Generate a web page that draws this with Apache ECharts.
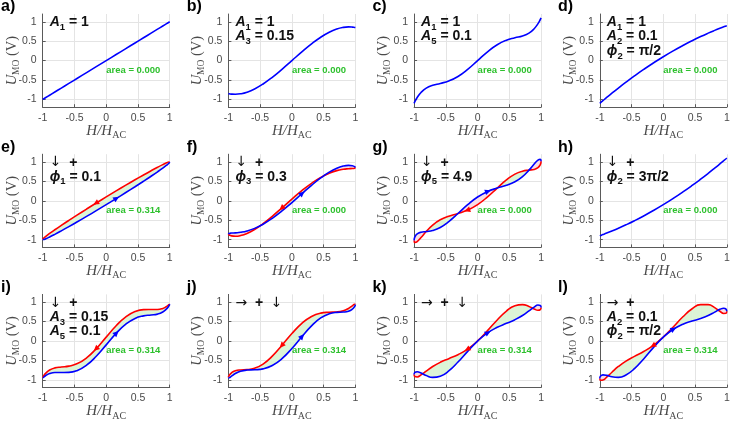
<!DOCTYPE html>
<html>
<head>
<meta charset="utf-8">
<script src="https://cdn.jsdelivr.net/npm/echarts@6/dist/echarts.min.js"></script>
<style>
  html, body { margin: 0; padding: 0; background: #fff; }
  #chart { width: 745px; height: 423px; }
</style>
</head>
<body>
<div id="chart"></div>
<script>
// field samples shared by every curve (H/H_AC)
const hGrid = [-1, -0.9877, -0.9511, -0.891, -0.809, -0.7071, -0.5878, -0.454, -0.309, -0.1564, 0,
  0.1564, 0.309, 0.454, 0.5878, 0.7071, 0.809, 0.891, 0.9511, 0.9877, 1];

// U_MO per panel (red = one branch, blue = the other)
const uA = [-1, -0.9877, -0.9511, -0.891, -0.809, -0.7071, -0.5878, -0.454, -0.309, -0.1564, 0,
  0.1564, 0.309, 0.454, 0.5878, 0.7071, 0.809, 0.891, 0.9511, 0.9877, 1];
const uB = [-0.85, -0.854, -0.8629, -0.8676, -0.8554, -0.8132, -0.7305, -0.6021, -0.4304, -0.2245, 0,
  0.2245, 0.4304, 0.6021, 0.7305, 0.8132, 0.8554, 0.8676, 0.8629, 0.854, 0.85];
const uC = [-1.1, -1.0584, -0.9511, -0.8203, -0.709, -0.6364, -0.5878, -0.5247, -0.409, -0.2271, 0,
  0.2271, 0.409, 0.5247, 0.5878, 0.6364, 0.709, 0.8203, 0.9511, 1.0584, 1.1];
const uD = [-1.1, -1.0828, -1.032, -0.9498, -0.8399, -0.7071, -0.5569, -0.3952, -0.2281, -0.0613, 0.1,
  0.2515, 0.3899, 0.5128, 0.6187, 0.7071, 0.7781, 0.8322, 0.8702, 0.8926, 0.9];
const uERed = [-0.995, -0.9671, -0.9155, -0.8412, -0.7463, -0.633, -0.5041, -0.3628, -0.2125, -0.057, 0.0998,
  0.2543, 0.4024, 0.5407, 0.6656, 0.7742, 0.8637, 0.9319, 0.9772, 0.9984, 0.995];
const uEBlue = [-0.995, -0.9984, -0.9772, -0.9319, -0.8637, -0.7742, -0.6656, -0.5407, -0.4024, -0.2543, -0.0998,
  0.057, 0.2125, 0.3628, 0.5041, 0.633, 0.7463, 0.8412, 0.9155, 0.9671, 0.995];
const uFRed = [-0.8567, -0.8801, -0.9027, -0.9124, -0.8954, -0.8398, -0.7378, -0.5886, -0.3989, -0.182, 0.0443,
  0.261, 0.451, 0.6025, 0.7104, 0.7771, 0.8111, 0.8248, 0.831, 0.8399, 0.8567];
const uFBlue = [-0.8567, -0.8399, -0.831, -0.8248, -0.8111, -0.7771, -0.7104, -0.6025, -0.451, -0.261, -0.0443,
  0.182, 0.3989, 0.5886, 0.7378, 0.8398, 0.8954, 0.9124, 0.9027, 0.8801, 0.8567];
const uGRed = [-1.0187, -1.0704, -1.0493, -0.9473, -0.7903, -0.6244, -0.4896, -0.3977, -0.3277, -0.2391, -0.0982,
  0.1001, 0.3277, 0.5367, 0.686, 0.7634, 0.7903, 0.8083, 0.8529, 0.9314, 1.0187];
const uGBlue = [-1.0187, -0.9314, -0.8529, -0.8083, -0.7903, -0.7634, -0.686, -0.5367, -0.3277, -0.1001, 0.0982,
  0.2391, 0.3277, 0.3977, 0.4896, 0.6244, 0.7903, 0.9473, 1.0493, 1.0704, 1.0187];
const uH = [-0.9, -0.8926, -0.8702, -0.8322, -0.7781, -0.7071, -0.6187, -0.5128, -0.3899, -0.2515, -0.1,
  0.0613, 0.2281, 0.3952, 0.5569, 0.7071, 0.8399, 0.9498, 1.032, 1.0828, 1.1];
const uIRed = [-0.945, -0.9042, -0.8273, -0.747, -0.6926, -0.6684, -0.6468, -0.5817, -0.4339, -0.1958, 0.0998,
  0.3931, 0.6238, 0.7596, 0.8083, 0.8096, 0.81, 0.8377, 0.889, 0.9355, 0.945];
const uIBlue = [-0.945, -0.9355, -0.889, -0.8377, -0.81, -0.8096, -0.8083, -0.7596, -0.6238, -0.3931, -0.0998,
  0.1958, 0.4339, 0.5817, 0.6468, 0.6684, 0.6926, 0.747, 0.8273, 0.9042, 0.945];
const uJRed = [-0.9395, -0.8877, -0.8192, -0.7666, -0.7449, -0.7375, -0.702, -0.5934, -0.3902, -0.1108, 0.192,
  0.4549, 0.6322, 0.7174, 0.7403, 0.7482, 0.778, 0.8375, 0.905, 0.9466, 0.9395];
const uJBlue = [-0.9395, -0.9466, -0.905, -0.8375, -0.778, -0.7482, -0.7403, -0.7174, -0.6322, -0.4549, -0.192,
  0.1108, 0.3902, 0.5934, 0.702, 0.7375, 0.7449, 0.7666, 0.8192, 0.8877, 0.9395];
const uKRed = [-0.8637, -0.9161, -0.9255, -0.874, -0.774, -0.6564, -0.5486, -0.4547, -0.3526, -0.2078, 0.0016,
  0.2661, 0.5425, 0.7716, 0.9065, 0.9366, 0.8914, 0.8257, 0.7908, 0.8084, 0.8637];
const uKBlue = [-0.8637, -0.8084, -0.7908, -0.8257, -0.8914, -0.9366, -0.9065, -0.7716, -0.5425, -0.2661, -0.0016,
  0.2078, 0.3526, 0.4547, 0.5486, 0.6564, 0.774, 0.874, 0.9255, 0.9161, 0.8637];
const uLRed = [-0.9637, -1.0112, -1.0064, -0.9328, -0.8049, -0.6564, -0.5177, -0.3959, -0.2717, -0.1127, 0.1016,
  0.3612, 0.6234, 0.8304, 0.9374, 0.9366, 0.8605, 0.7669, 0.7099, 0.7133, 0.7637];
const uLBlue = [-0.9637, -0.9035, -0.8717, -0.8845, -0.9223, -0.9366, -0.8756, -0.7128, -0.4616, -0.171, 0.0984,
  0.3029, 0.4335, 0.5135, 0.5795, 0.6564, 0.7431, 0.8152, 0.8446, 0.821, 0.7637];

const tickValues = [-1, -0.5, 0, 0.5, 1];
const letters = ['a)', 'b)', 'c)', 'd)', 'e)', 'f)', 'g)', 'h)', 'i)', 'j)', 'k)', 'l)'];
const areaLabels = ['0.000', '0.000', '0.000', '0.000', '0.314', '0.000', '0.000', '0.000', '0.314', '0.314', '0.314', '0.314'];
const notes = [
  ['{i|A}{s|1}{b| = 1}'],
  ['{i|A}{s|1}{b| = 1}', '{i|A}{s|3}{b| = 0.15}'],
  ['{i|A}{s|1}{b| = 1}', '{i|A}{s|5}{b| = 0.1}'],
  ['{i|A}{s|1}{b| = 1}', '{i|A}{s|2}{b| = 0.1}', '{i|ϕ}{s|2}{b| = π/2}'],
  ['{ar|↓}{b|  +}', '{i|ϕ}{s|1}{b| = 0.1}'],
  ['{ar|↓}{b|  +}', '{i|ϕ}{s|3}{b| = 0.3}'],
  ['{ar|↓}{b|  +}', '{i|ϕ}{s|5}{b| = 4.9}'],
  ['{ar|↓}{b|  +}', '{i|ϕ}{s|2}{b| = 3π/2}'],
  ['{ar|↓}{b|  +}', '{i|A}{s|3}{b| = 0.15}', '{i|A}{s|5}{b| = 0.1}'],
  ['{ar|→}{b|  +  }{ar|↓}'],
  ['{ar|→}{b|  +  }{ar|↓}'],
  ['{ar|→}{b|  +}', '{i|A}{s|2}{b| = 0.1}', '{i|ϕ}{s|2}{b| = π/2}']
];
const redCurves = [null, null, null, null, uERed, uFRed, uGRed, null, uIRed, uJRed, uKRed, uLRed];
const blueCurves = [uA, uB, uC, uD, uEBlue, uFBlue, uGBlue, uH, uIBlue, uJBlue, uKBlue, uLBlue];

// layout
const COL_STEP = 185.7, ROW_STEP = 140.2;
const PLOT_LEFT = 42.7, PLOT_TOP = 14, PLOT_W = 127, PLOT_H = 93.2;
const NOTE_Y = [8.5, 22.5, 37];
const RED = '#ff0000', BLUE = '#0000ff';
const FILL_POS = '#dcf4d6', FILL_NEG = '#f8dde5';
const AXIS_COLOR = '#5a5a5a';
const LABEL_COLOR = '#4a4a4a';
const RED_MARK = 9, BLUE_MARK = 11;

const annRich = {
  i: { fontFamily: 'Liberation Sans', fontWeight: 'bold', fontStyle: 'italic', fontSize: 14, fill: '#111', lineHeight: 20 },
  s: { fontFamily: 'Liberation Sans', fontWeight: 'bold', fontSize: 9.5, fill: '#111', lineHeight: 12, verticalAlign: 'bottom' },
  b: { fontFamily: 'Liberation Sans', fontWeight: 'bold', fontSize: 14, fill: '#111', lineHeight: 20 },
  ar: { fontFamily: 'DejaVu Sans', fontSize: 14, fill: '#111', lineHeight: 20 }
};

function loopFill(red, blue) {
  return function (params, api) {
    const children = [];
    const poly = (pts, pos) => ({
      type: 'polygon',
      shape: { points: pts },
      style: { fill: pos ? FILL_POS : FILL_NEG, stroke: pos ? FILL_POS : FILL_NEG, lineWidth: 0.6 }
    });
    for (let k = 0; k < hGrid.length - 1; k++) {
      const d0 = red[k] - blue[k], d1 = red[k + 1] - blue[k + 1];
      const r0 = api.coord([hGrid[k], red[k]]), r1 = api.coord([hGrid[k + 1], red[k + 1]]);
      const b0 = api.coord([hGrid[k], blue[k]]), b1 = api.coord([hGrid[k + 1], blue[k + 1]]);
      if (d0 * d1 < 0) {
        const t = d0 / (d0 - d1);
        const c = [r0[0] + t * (r1[0] - r0[0]), r0[1] + t * (r1[1] - r0[1])];
        children.push(poly([r0, c, b0], d0 > 0));
        children.push(poly([c, r1, b1], d1 > 0));
      } else if (d0 !== 0 || d1 !== 0) {
        children.push(poly([r0, r1, b1, b0], d0 + d1 > 0));
      }
    }
    return { type: 'group', children };
  };
}

function arrowHead(api, u, k, toward, color) {
  const p = api.coord([hGrid[k], u[k]]);
  const q = api.coord([hGrid[toward], u[toward]]);
  const dx = q[0] - p[0], dy = q[1] - p[1];
  const len = Math.hypot(dx, dy) || 1;
  const ux = dx / len, uy = dy / len, nx = -uy, ny = ux;
  return {
    type: 'polygon',
    shape: { points: [
      [p[0] + ux * 3.5, p[1] + uy * 3.5],
      [p[0] - ux * 2.5 + nx * 2.8, p[1] - uy * 2.5 + ny * 2.8],
      [p[0] - ux * 2.5 - nx * 2.8, p[1] - uy * 2.5 - ny * 2.8]
    ] },
    style: { fill: color }
  };
}

function lineSeries(n, u, color) {
  return {
    type: 'line', xAxisIndex: n, yAxisIndex: n, z: 2, silent: true,
    data: hGrid.map((h, k) => [h, u[k]]),
    smooth: true, showSymbol: false, symbol: 'none',
    lineStyle: { color, width: 1.6 }
  };
}

const grid = [], xAxis = [], yAxis = [], series = [], graphic = [];

blueCurves.forEach((blue, n) => {
  const red = redCurves[n];
  const col = n % 4, row = Math.floor(n / 4);
  const left = PLOT_LEFT + col * COL_STEP;
  const top = PLOT_TOP + row * ROW_STEP;

  grid.push({ left, top, width: PLOT_W, height: PLOT_H });
  xAxis.push({
    gridIndex: n, type: 'value', min: -1, max: 1, interval: 0.5,
    axisLine: { show: true, onZero: false, lineStyle: { color: AXIS_COLOR, width: 1 } },
    axisTick: { show: true, inside: true, length: 3, lineStyle: { color: AXIS_COLOR } },
    axisLabel: { fontFamily: 'Liberation Sans', fontSize: 10.5, color: LABEL_COLOR, margin: 5 },
    splitLine: { show: true, lineStyle: { color: '#e4e4e4', width: 1 } }
  });
  yAxis.push({
    gridIndex: n, type: 'value', min: -1.2, max: 1.2,
    axisLine: { show: true, onZero: false, lineStyle: { color: AXIS_COLOR, width: 1 } },
    axisTick: { show: true, inside: true, length: 3, customValues: tickValues, lineStyle: { color: AXIS_COLOR } },
    axisLabel: { customValues: tickValues, fontFamily: 'Liberation Sans', fontSize: 10.5, color: LABEL_COLOR, margin: 6 },
    splitLine: { show: true, lineStyle: { color: '#e4e4e4', width: 1 } }
  });

  if (red) {
    series.push({
      type: 'custom', xAxisIndex: n, yAxisIndex: n, z: 1, silent: true,
      data: [[0, 0]], renderItem: loopFill(red, blue)
    });
    series.push(lineSeries(n, red, RED));
  }
  series.push(lineSeries(n, blue, BLUE));
  if (red) {
    series.push({
      type: 'custom', xAxisIndex: n, yAxisIndex: n, z: 3, silent: true,
      data: [[0, 0]],
      renderItem: (params, api) => ({
        type: 'group',
        children: [
          arrowHead(api, red, RED_MARK, RED_MARK - 1, RED),
          arrowHead(api, blue, BLUE_MARK, BLUE_MARK + 1, BLUE)
        ]
      })
    });
  }

  // panel letter
  graphic.push({
    type: 'text', x: col * COL_STEP + 1, y: row * ROW_STEP - 1,
    style: { text: letters[n], fontFamily: 'Liberation Sans', fontWeight: 'bold', fontSize: 16, fill: '#000', align: 'left', verticalAlign: 'top' }
  });
  // y axis name
  graphic.push({
    type: 'text', x: left - 31, y: top + PLOT_H / 2, rotation: Math.PI / 2,
    style: {
      text: '{u|U}{m|MO}{v| (V)}', align: 'center', verticalAlign: 'middle',
      rich: {
        u: { fontFamily: 'Liberation Serif', fontStyle: 'italic', fontSize: 14.5, fill: LABEL_COLOR, lineHeight: 19 },
        m: { fontFamily: 'Liberation Serif', fontSize: 9.5, fill: LABEL_COLOR, lineHeight: 11, verticalAlign: 'bottom' },
        v: { fontFamily: 'Liberation Serif', fontSize: 14.5, fill: LABEL_COLOR, lineHeight: 19 }
      }
    }
  });
  // x axis name
  graphic.push({
    type: 'text', x: left + PLOT_W / 2, y: top + 117,
    style: {
      text: '{h|H/H}{a|AC}', align: 'center', verticalAlign: 'middle',
      rich: {
        h: { fontFamily: 'Liberation Serif', fontStyle: 'italic', fontSize: 15, fill: LABEL_COLOR, lineHeight: 19 },
        a: { fontFamily: 'Liberation Serif', fontSize: 10, fill: LABEL_COLOR, lineHeight: 11, verticalAlign: 'bottom' }
      }
    }
  });
  // annotations inside the axes
  notes[n].forEach((t, j) => {
    graphic.push({
      type: 'text', x: left + 7, y: top + NOTE_Y[j], z: 10,
      style: { text: t, align: 'left', verticalAlign: 'middle', rich: annRich }
    });
  });
  // loop area text
  graphic.push({
    type: 'text', x: left + PLOT_W / 2, y: top + 56, z: 10,
    style: {
      text: 'area = ' + areaLabels[n], fontFamily: 'Liberation Sans', fontWeight: 'bold', fontSize: 9.5,
      fill: '#2ec12e', align: 'left', verticalAlign: 'middle'
    }
  });
});

const chart = echarts.init(document.getElementById('chart'));
chart.setOption({
  animation: false,
  backgroundColor: '#fff',
  grid, xAxis, yAxis, series, graphic
});
</script>
</body>
</html>
